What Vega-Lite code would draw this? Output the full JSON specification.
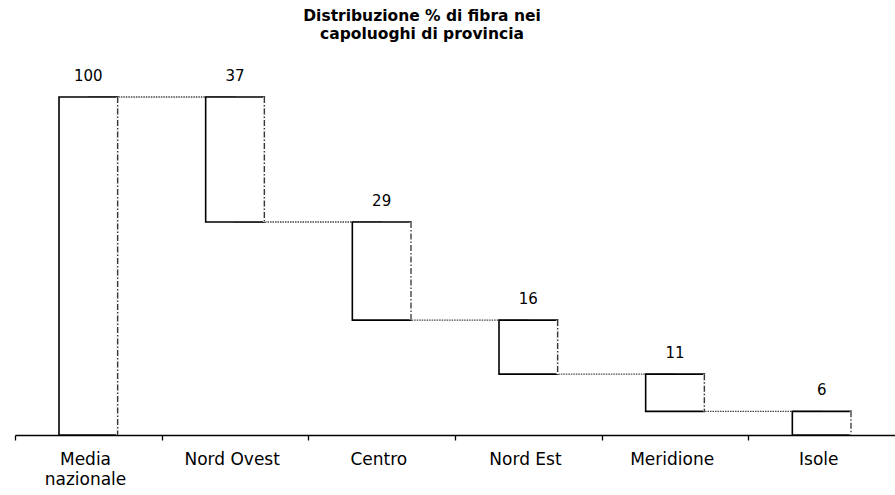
{
  "$schema": "https://vega.github.io/schema/vega-lite/v6.json",
  "width": 880,
  "height": 338,
  "autosize": "none",
  "padding": {"left": 15, "top": 97, "right": 0, "bottom": 60},
  "background": "white",
  "config": {"view": {"stroke": null}, "font": "DejaVu Sans"},
  "title": {
    "text": ["Distribuzione % di fibra nei", "capoluoghi di provincia"],
    "fontSize": 15.5,
    "fontWeight": "bold",
    "font": "DejaVu Sans",
    "color": "black",
    "lineHeight": 18,
    "anchor": "middle",
    "dx": -33,
    "offset": 27
  },
  "datasets": {
    "bars": [
      {"area": "Media nazionale", "high": 100, "low": 0, "label": "100"},
      {"area": "Nord Ovest", "high": 100, "low": 63, "label": "37"},
      {"area": "Centro", "high": 63, "low": 34, "label": "29"},
      {"area": "Nord Est", "high": 34, "low": 18, "label": "16"},
      {"area": "Meridione", "high": 18, "low": 7, "label": "11"},
      {"area": "Isole", "high": 7, "low": 0, "label": "6"}
    ],
    "links": [
      {"pair": 1, "area": "Media nazionale", "level": 100},
      {"pair": 1, "area": "Nord Ovest", "level": 100},
      {"pair": 2, "area": "Nord Ovest", "level": 63},
      {"pair": 2, "area": "Centro", "level": 63},
      {"pair": 3, "area": "Centro", "level": 34},
      {"pair": 3, "area": "Nord Est", "level": 34},
      {"pair": 4, "area": "Nord Est", "level": 18},
      {"pair": 4, "area": "Meridione", "level": 18},
      {"pair": 5, "area": "Meridione", "level": 7},
      {"pair": 5, "area": "Isole", "level": 7}
    ],
    "edges": [
      {"area": "Media nazionale", "level": 100},
      {"area": "Media nazionale", "level": 0},
      {"area": "Nord Ovest", "level": 100},
      {"area": "Nord Ovest", "level": 63},
      {"area": "Centro", "level": 63},
      {"area": "Centro", "level": 34},
      {"area": "Nord Est", "level": 34},
      {"area": "Nord Est", "level": 18},
      {"area": "Meridione", "level": 18},
      {"area": "Meridione", "level": 7},
      {"area": "Isole", "level": 7},
      {"area": "Isole", "level": 0}
    ]
  },
  "encoding": {
    "x": {
      "field": "area",
      "type": "nominal",
      "sort": ["Media nazionale", "Nord Ovest", "Centro", "Nord Est", "Meridione", "Isole"],
      "scale": {"paddingInner": 0.6, "paddingOuter": 0.3},
      "axis": {
        "title": null,
        "labelAngle": 0,
        "labelFontSize": 17,
        "labelFont": "DejaVu Sans",
        "labelColor": "black",
        "labelPadding": 11,
        "labelLineHeight": 20,
        "labelExpr": "datum.label == 'Media nazionale' ? ['Media', 'nazionale'] : datum.label",
        "domainColor": "black",
        "domainWidth": 1.6,
        "tickColor": "black",
        "tickWidth": 1.3,
        "tickSize": 5,
        "bandPosition": 0.5,
        "tickOffset": -73.33,
        "labelOffset": 70
      }
    }
  },
  "layer": [
    {
      "data": {"name": "links"},
      "mark": {"type": "line", "stroke": "#444444", "strokeDash": [1.5, 1], "strokeWidth": 1.4},
      "encoding": {
        "y": {"field": "level", "type": "quantitative", "scale": {"domain": [0, 100], "nice": false}, "axis": null},
        "detail": {"field": "pair", "type": "nominal"}
      }
    },
    {
      "data": {"name": "bars"},
      "mark": {"type": "bar", "fill": "white", "stroke": "black", "strokeWidth": 1.6},
      "encoding": {
        "y": {"field": "high", "type": "quantitative", "scale": {"domain": [0, 100], "nice": false}, "axis": null},
        "y2": {"field": "low"}
      }
    },
    {
      "data": {"name": "edges"},
      "mark": {"type": "line", "stroke": "white", "strokeWidth": 2.5},
      "encoding": {
        "x": {"field": "area", "type": "nominal", "bandPosition": 1, "sort": ["Media nazionale", "Nord Ovest", "Centro", "Nord Est", "Meridione", "Isole"]},
        "y": {"field": "level", "type": "quantitative", "axis": null},
        "detail": {"field": "area", "type": "nominal"}
      }
    },
    {
      "data": {"name": "edges"},
      "mark": {"type": "line", "stroke": "#333333", "strokeWidth": 1.3, "strokeDash": [6, 2, 1.5, 2]},
      "encoding": {
        "x": {"field": "area", "type": "nominal", "bandPosition": 1, "sort": ["Media nazionale", "Nord Ovest", "Centro", "Nord Est", "Meridione", "Isole"]},
        "y": {"field": "level", "type": "quantitative", "axis": null},
        "detail": {"field": "area", "type": "nominal"}
      }
    },
    {
      "data": {"name": "bars"},
      "mark": {"type": "text", "fontSize": 15, "font": "DejaVu Sans", "color": "black", "baseline": "middle", "dy": -21},
      "encoding": {
        "y": {"field": "high", "type": "quantitative", "axis": null},
        "text": {"field": "label"}
      }
    }
  ]
}
